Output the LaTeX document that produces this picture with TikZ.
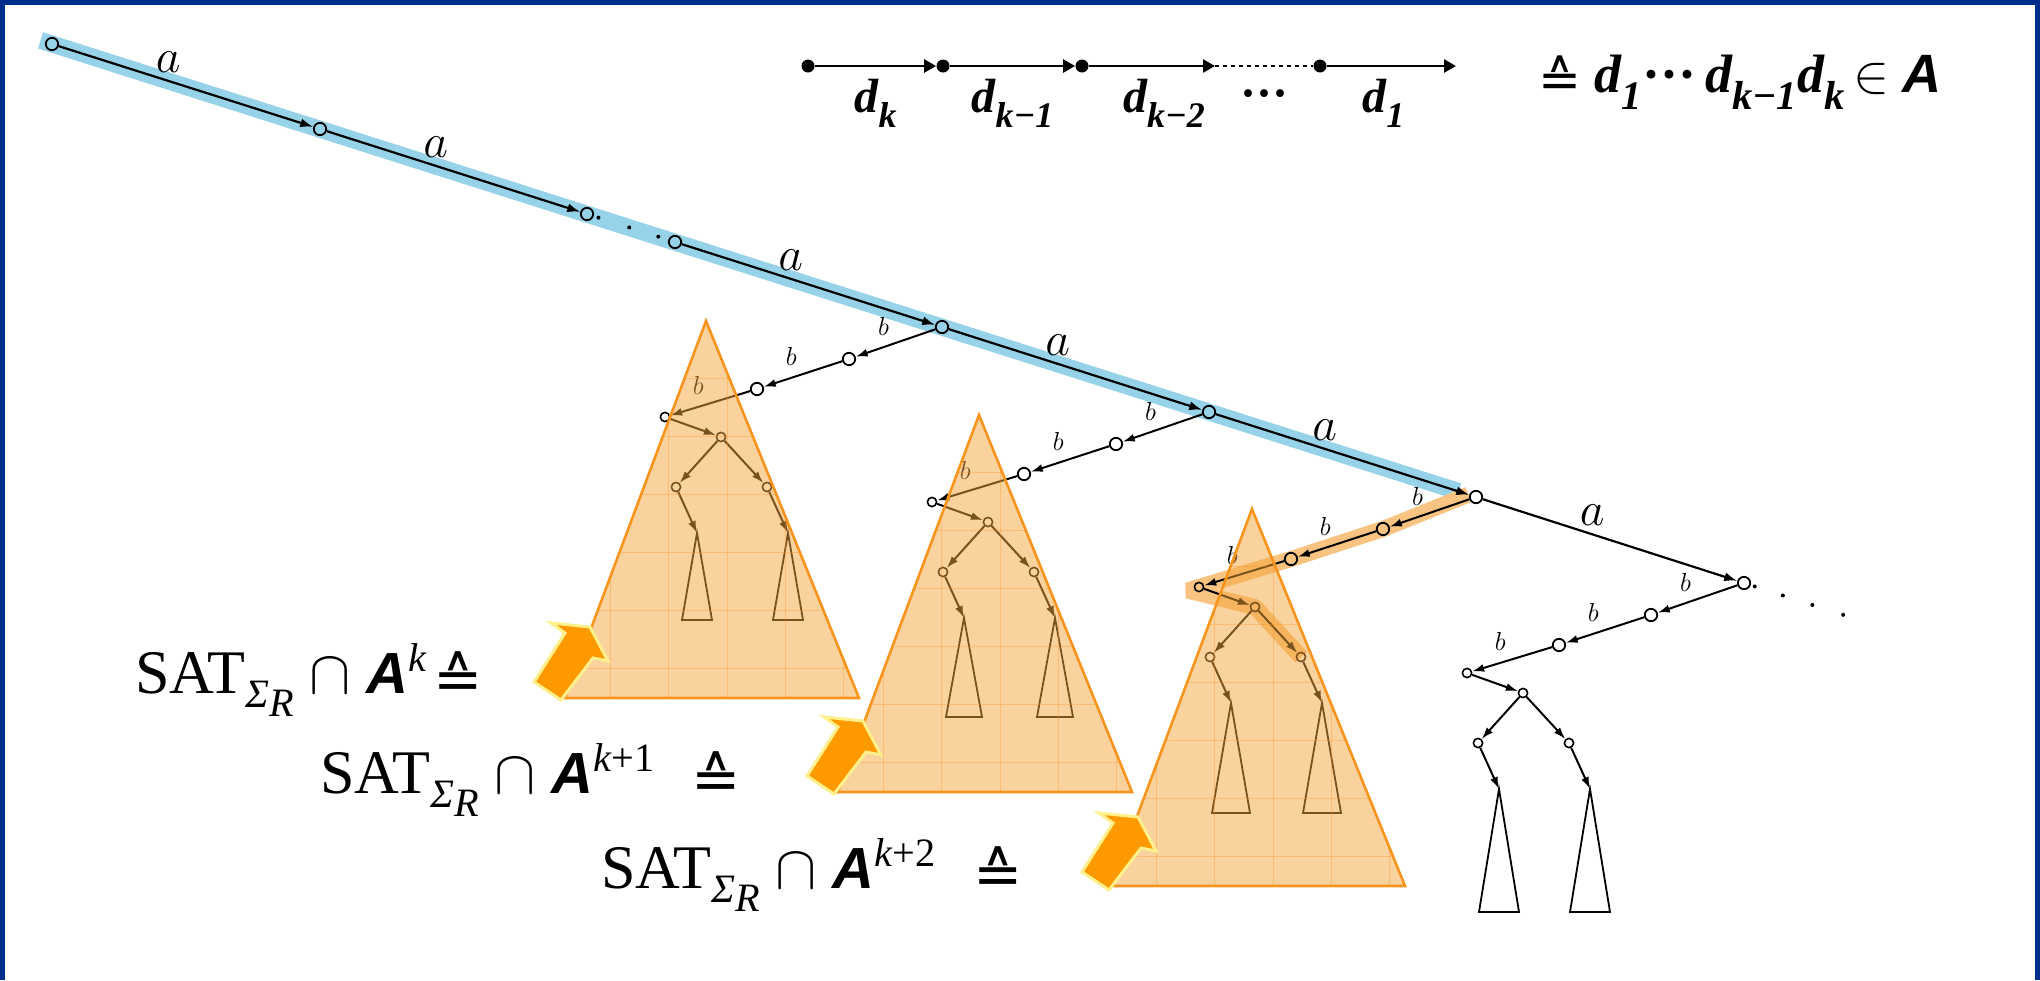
\RequirePackage{fix-cm}
\documentclass[tikz,border=0pt]{standalone}
\usepackage{amsmath,amssymb}
\usepackage{fontspec}
\setmainfont{Liberation Serif}
\setsansfont{Liberation Sans}
\newfontfamily\symfont{DejaVu Sans}
\usetikzlibrary{arrows.meta,calc,backgrounds}

\definecolor{frameblue}{RGB}{0,45,140}
\definecolor{bandblue}{RGB}{150,210,232}
\definecolor{bandorange}{RGB}{249,196,130}
\definecolor{triorange}{RGB}{245,165,60}
\definecolor{edgeorange}{RGB}{247,148,29}
\definecolor{arroworange}{RGB}{255,153,0}
\definecolor{arrowrim}{RGB}{255,240,140}

\newcommand{\hateq}{\raisebox{-0.1em}{\symfont\scalebox{0.95}{≙}}}
\newcommand{\boldA}{{\sffamily\bfseries\itshape A}}
\newcommand{\dsub}[1]{\textbf{\textit{d\raisebox{-0.32em}{\scalebox{0.75}{#1}}}}}
\newcommand{\satlabel}[1]{SAT\raisebox{-0.24em}{\scalebox{0.65}{\textit{Σ}\raisebox{-0.22em}{\textit{R}}}}\hspace{0.25em}$\cap$\hspace{0.25em}{\fontsize{29}{34}\selectfont\boldA}\raisebox{0.34em}{\scalebox{0.65}{#1}}}

\begin{document}
\begin{tikzpicture}[x=0.5pt, y=-0.5pt,
    state/.style={draw, circle, inner sep=0pt, minimum size=6.2pt, line width=0.9pt},
    small/.style={state, minimum size=4.6pt, line width=0.8pt},
    dot/.style={circle, fill=black, inner sep=0pt, minimum size=2pt},
    trans/.style={-{Latex[length=6.5pt,width=4.5pt]}, line width=1.1pt},
    subtrans/.style={-{Latex[length=6pt,width=4pt]}, line width=1pt},
    leaf/.style={line width=0.9pt, line join=miter},
    alabel/.style={font=\fontsize{24}{28}\selectfont, inner sep=0pt, yshift=9.5pt},
    blabel/.style={font=\fontsize{13}{15}\selectfont, inner sep=0pt, yshift=10.5pt},
    legarrow/.style={-{Triangle[length=6pt,width=6.5pt]}, line width=1.3pt},
    legdot/.style={circle, fill=black, inner sep=0pt, minimum size=6.5pt},
    leglabel/.style={below=6pt, inner sep=0pt, font=\fontsize{24}{28}\selectfont},
    tri/.style={fill=triorange, fill opacity=0.5},
    trigrid/.style={draw=edgeorange, draw opacity=0.35, line width=0.4pt},
    triedge/.style={draw=edgeorange, line width=1.3pt, line join=miter},
    pointer/.style={fill=arroworange, draw=arrowrim, line width=1.5pt, line join=miter},
    sat/.style={anchor=base west, inner sep=0pt, font=\fontsize{31}{36}\selectfont}
]
\useasboundingbox (0,0) rectangle (2040,980);
% Frame
\fill[frameblue] (0,0) rectangle (2040,5);
\fill[frameblue] (0,0) rectangle (5,980);
\fill[frameblue] (2035,0) rectangle (2040,980);

% Spine of a-transitions
\node[state] (n0) at (52,44) {};
\node[state] (n1) at (320,129) {};
\node[state] (n2) at (587,214) {};
\node[state] (n3) at (675,242) {};
\node[state] (n4) at (942,327) {};
\node[state] (n5) at (1209,412) {};
\node[state] (n6) at (1476,497) {};
\node[state] (n7) at (1744,583) {};
\foreach \u/\v in {0/1, 1/2, 3/4, 4/5, 5/6, 6/7}
    \draw[trans] (n\u) -- node[alabel, pos=0.43] {$a$} (n\v);
\foreach \f [count=\c] in {0.13,0.48,0.81}
    \node[dot] (gap\c) at ($(n2)!\f!(n3)$) {};
\foreach \f [count=\c] in {0.04,0.145,0.255,0.37}
    \node[dot] (tail\c) at ($(n7)!-\f!(n6)$) {};

% b-branches with their subtrees
\foreach \r/\h/\w in {4/87/15, 5/99/18, 6/110/19, 7/123/20} {
    \node[state] (b\r-1) at ($(n\r)+(-93,32)$) {};
    \node[state] (b\r-2) at ($(n\r)+(-185,62)$) {};
    \node[small] (b\r-3) at ($(n\r)+(-277,90)$) {};
    \node[small] (s\r) at ($(n\r)+(-221,110)$) {};
    \node[small] (l\r) at ($(n\r)+(-266,160)$) {};
    \node[small] (r\r) at ($(n\r)+(-175,160)$) {};
    \coordinate (lt\r) at ($(n\r)+(-245,206)$);
    \coordinate (rt\r) at ($(n\r)+(-154,206)$);
    \draw[subtrans] (n\r) -- node[blabel, pos=0.65] {$b$} (b\r-1);
    \draw[subtrans] (b\r-1) -- node[blabel, pos=0.65] {$b$} (b\r-2);
    \draw[subtrans] (b\r-2) -- node[blabel, pos=0.65] {$b$} (b\r-3);
    \draw[subtrans] (b\r-3) -- (s\r);
    \draw[subtrans] (s\r) -- (l\r);
    \draw[subtrans] (s\r) -- (r\r);
    \draw[subtrans] (l\r) -- (lt\r);
    \draw[subtrans] (r\r) -- (rt\r);
    \draw[leaf] (lt\r) -- ++(-\w,\h) -- ++({2*\w},0) -- cycle;
    \draw[leaf] (rt\r) -- ++(-\w,\h) -- ++({2*\w},0) -- cycle;
}

% Highlighted paths
\begin{scope}[on background layer]
    \draw[bandblue, line width=8.5pt] ($(n0)!-6pt!(n1)$) -- ($(n6)!9pt!(n5)$);
    \draw[bandorange, line width=8pt, line join=bevel] ($(n6)!4pt!(n5)$) -- (b6-1.center) -- (b6-2.center) -- ($(b6-3.center)!-6pt!(b6-2.center)$) -- (s6.center) -- (r6.center);
\end{scope}

% Orange cones
\foreach \j/\ax/\ay in {1/706/321, 2/979/415, 3/1252/509} {
    \coordinate (t\j) at (\ax,\ay);
    \fill[tri] (t\j) -- ++(-141,377) -- ++(294,0) -- cycle;
    \begin{scope}
        \clip (t\j) -- ++(-141,377) -- ++(294,0) -- cycle;
        \foreach \k in {0,...,5}
            \draw[trigrid] ($(t\j)+(-141,57+58*\k)$) -- ++(294,0);
        \foreach \v in {-96,-38,21,79,137}
            \draw[trigrid] ($(t\j)+(\v,0)$) -- ++(0,377);
    \end{scope}
    \draw[triedge] (t\j) -- ++(-141,377) -- ++(294,0) -- cycle;
}

% Block arrows
\foreach \px/\py in {590/627, 863/721, 1138/817}
    \draw[pointer, shift={(\px,\py)}] (-56,55) -- (-25,6) -- (-39,-4) -- (0,0) -- (18,34) -- (3,31) -- (-29,73) -- cycle;

% Formulas
\node[sat] (sat1) at (135,693) {\satlabel{\textit{k}}\hspace{0.1em}\hateq};
\node[sat] (sat2) at (320,793) {\satlabel{\textit{k}+1}\hspace{0.6em}\hateq};
\node[sat] (sat3) at (601,888) {\satlabel{\textit{k}+2}\hspace{0.6em}\hateq};

% Legend
\node[legdot] (g1) at (808,66) {};
\node[legdot] (g2) at (943,66) {};
\node[legdot] (g3) at (1082,66) {};
\coordinate (g4) at (1215,66);
\node[legdot] (g5) at (1320,66) {};
\coordinate (g6) at (1456,66);
\draw[legarrow] (g1) -- node[leglabel] {\dsub{k}} (g2);
\draw[legarrow] (g2) -- node[leglabel] {\dsub{k−1}} (g3);
\draw[legarrow] (g3) -- node[leglabel, xshift=6pt] {\dsub{k−2}} (g4);
\draw[line width=1.3pt, dash pattern=on 2pt off 2pt] (g4) -- node[font=\fontsize{24}{28}\selectfont\bfseries, yshift=-17pt] {···} (g5);
\draw[legarrow] (g5) -- node[leglabel, xshift=-4pt] {\dsub{1}} (g6);
\node[anchor=base west, inner sep=0pt, font=\fontsize{27}{32}\selectfont] (word) at (1538,92) {\hateq\ \dsub{1}\textbf{···}\,\dsub{k−1}\dsub{k}\,$\in$\ \boldA};
\end{tikzpicture}
\end{document}
